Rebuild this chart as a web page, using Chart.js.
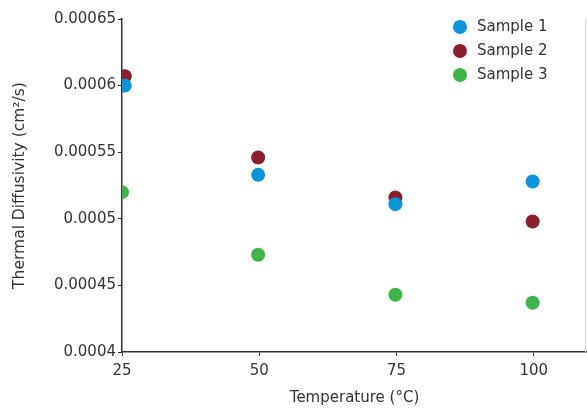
<!DOCTYPE html>
<html>
<head>
<meta charset="utf-8">
<style>
  html, body { margin: 0; padding: 0; background: #fff; }
  #wrap { width: 587px; height: 408px; }
</style>
<script src="https://cdn.jsdelivr.net/npm/chart.js@4.4.1/dist/chart.umd.min.js"></script>
</head>
<body>
<div id="wrap"><canvas id="chart"></canvas></div>
<script>
  const seriesNames = ['Sample 1', 'Sample 2', 'Sample 3'];
  const seriesColors = ['#0995dc', '#8c1f2e', '#3cb54a'];
  const temps1 = [25.5, 49.8, 74.8, 99.8];
  const temps2 = [25.5, 49.8, 74.8, 99.8];
  const temps3 = [25, 49.8, 74.8, 99.8];
  const sample1 = [0.0006, 0.000533, 0.000511, 0.000528];
  const sample2 = [0.000607, 0.000546, 0.000516, 0.000498];
  const sample3 = [0.00052, 0.000473, 0.000443, 0.000437];
  const xTicks = [25, 50, 75, 100];

  const FONT = 'DejaVu Sans';
  const INK = '#333';

  const pts = (xs, ys) => xs.map((x, i) => ({ x, y: ys[i] }));
  const allSeries = [pts(temps1, sample1), pts(temps2, sample2), pts(temps3, sample3)];

  // legend sits inside the plot, top right
  const innerLegend = {
    id: 'innerLegend',
    afterDraw(chart) {
      const ctx = chart.ctx;
      ctx.save();
      ctx.font = '15px "' + FONT + '"';
      ctx.textBaseline = 'middle';
      chart.data.datasets.forEach((ds, i) => {
        const y = 27 + i * 24;
        ctx.fillStyle = ds.backgroundColor;
        ctx.beginPath();
        ctx.arc(460, y, 7, 0, Math.PI * 2);
        ctx.fill();
        ctx.fillStyle = INK;
        ctx.fillText(ds.label, 477, y);
      });
      ctx.restore();
    }
  };

  // thin grey frame line on the right edge of the plot
  const rightEdge = {
    id: 'rightEdge',
    afterDraw(chart) {
      const a = chart.chartArea, ctx = chart.ctx;
      ctx.save();
      ctx.strokeStyle = '#d8d8d8';
      ctx.lineWidth = 1;
      ctx.beginPath();
      ctx.moveTo(a.right - 1.5, a.top);
      ctx.lineTo(a.right - 1.5, a.bottom);
      ctx.stroke();
      ctx.restore();
    }
  };

  new Chart(document.getElementById('chart'), {
    type: 'scatter',
    data: {
      datasets: allSeries.map((d, i) => ({
        label: seriesNames[i],
        data: d,
        backgroundColor: seriesColors[i],
        borderColor: seriesColors[i],
        pointRadius: 7,
        pointHoverRadius: 7,
        borderWidth: 0,
      })),
    },
    options: {
      responsive: true,
      maintainAspectRatio: false,
      animation: false,
      layout: { autoPadding: false, padding: { top: 19, right: 0, left: 0, bottom: 0 } },
      plugins: { legend: { display: false }, tooltip: { enabled: false } },
      scales: {
        x: {
          type: 'linear',
          min: 25,
          max: 109.7,
          afterBuildTicks: s => { s.ticks = xTicks.map(v => ({ value: v })); },
          afterFit: s => { s.height = 56; s.paddingRight = 0; },
          ticks: { color: INK, font: { family: FONT, size: 15 }, padding: 6, maxRotation: 0 },
          grid: { drawOnChartArea: false, drawTicks: true, tickLength: 4, color: INK },
          border: { color: INK, width: 1.5 },
          title: { display: true, text: 'Temperature (°C)', color: INK, font: { family: FONT, size: 15 }, padding: { top: 0, bottom: 1 } },
        },
        y: {
          min: 0.0004,
          max: 0.00065,
          afterFit: s => { s.width = 122; },
          ticks: {
            stepSize: 0.00005,
            color: INK,
            font: { family: FONT, size: 15 },
            padding: 2,
            callback: v => String(+v.toFixed(5)),
          },
          grid: { drawOnChartArea: false, drawTicks: true, tickLength: 4, color: INK },
          border: { color: INK, width: 1.5 },
          title: { display: true, text: 'Thermal Diffusivity (cm²/s)', color: INK, font: { family: FONT, size: 15.5 }, padding: { top: 11, bottom: 4 } },
        },
      },
    },
    plugins: [innerLegend, rightEdge],
  });
</script>
</body>
</html>
